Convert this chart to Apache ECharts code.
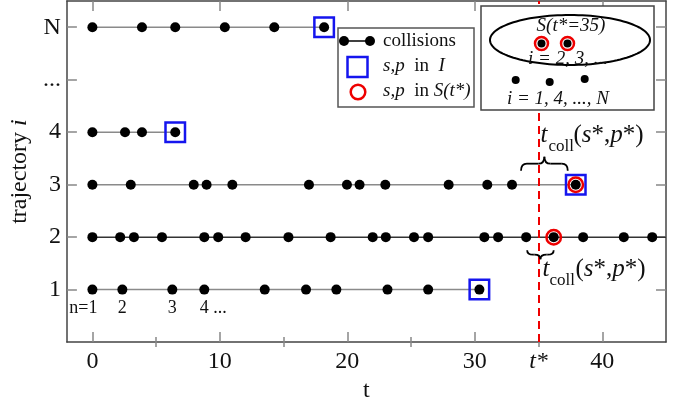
<!DOCTYPE html>
<html>
<head>
<meta charset="utf-8">
<script src="https://cdn.jsdelivr.net/npm/echarts@6/dist/echarts.min.js"></script>
<style>html,body{margin:0;padding:0;background:#fff}#c{width:688px;height:408px}</style>
</head>
<body>
<div id="c"></div>
<script>
// ---- data ----
const xMin = -2, xMax = 45, yMin = 0, yMax = 6.5;
const tStar = 35;
const xMajorTicks = [0, 10, 20, 30, 40];
const xMinorTicks = [5, 15, 25, 35];
const xLabelValues = [0, 10, 20, 30, 35, 40];
const rowLevels = [1, 2, 3, 4, 5, 6];
const rowLabels = ['1', '2', '3', '4', '...', 'N'];

const row1 = [0, 2.35, 6.27, 8.78, 13.52, 16.76, 19.14, 23.15, 26.34, 30.36];
const row2 = [0, 2.18, 3.26, 5.46, 8.78, 9.87, 12.02, 15.38, 18.69, 21.99, 23.02, 25.23, 26.34, 30.75, 31.83, 34.03, 36.19, 38.5, 41.69, 43.92];
const row3 = [0, 3.01, 7.95, 8.96, 10.98, 16.99, 19.97, 20.96, 22.98, 27.95, 30.98, 32.92, 37.92];
const row4 = [0, 2.56, 3.89, 6.5];
const rowN = [0, 3.89, 6.5, 10.39, 14.27, 18.18];

const squarePoints = [[18.18, 6], [6.5, 4], [37.92, 3], [30.36, 1]];
const circlePoints = [[36.19, 2], [37.92, 3]];
const nLabels = ['n=1', '2', '3', '4 ...'];

// ---- build ----
const FONT = '"Liberation Serif", "DejaVu Serif", serif';
const rows = [
  { t: row1, y: 1, end: row1[row1.length - 1], color: '#8a8a8a' },
  { t: row2, y: 2, end: xMax, color: '#333' },
  { t: row3, y: 3, end: row3[row3.length - 1], color: '#8a8a8a' },
  { t: row4, y: 4, end: row4[row4.length - 1], color: '#8a8a8a' },
  { t: rowN, y: 6, end: rowN[rowN.length - 1], color: '#8a8a8a' }
];

const series = [];
rows.forEach(r => {
  series.push({
    type: 'line', silent: true, showSymbol: false, z: 1,
    data: [[r.t[0], r.y], [r.end, r.y]],
    lineStyle: { color: r.color, width: 1.5 }
  });
});
const dots = [];
rows.forEach(r => r.t.forEach(v => dots.push([v, r.y])));
series.push({
  type: 'scatter', data: dots, symbolSize: 10, z: 3, silent: true,
  itemStyle: { color: '#000', opacity: 1 },
  markLine: {
    silent: true, symbol: 'none', label: { show: false },
    lineStyle: { color: '#ee0000', type: [8, 5], width: 2 },
    data: [{ xAxis: tStar }]
  }
});
series.push({
  type: 'scatter', data: squarePoints, symbol: 'rect', symbolSize: 19.5, z: 4, silent: true,
  itemStyle: { color: 'rgba(0,0,0,0)', borderColor: '#1515ee', borderWidth: 2.5, opacity: 1 }
});
series.push({
  type: 'scatter', data: circlePoints, symbol: 'circle', symbolSize: 14.5, z: 5, silent: true,
  itemStyle: { color: 'rgba(0,0,0,0)', borderColor: '#ee0000', borderWidth: 2.5, opacity: 1 }
});

const axisLineStyle = { color: '#444', width: 1.5 };
const tickStyle = { color: '#888', width: 1.5 };
function xAx(pos, ticks, len, labels) {
  const a = {
    type: 'value', min: xMin, max: xMax, position: pos,
    splitLine: { show: false },
    axisLine: { show: true, onZero: false, lineStyle: axisLineStyle },
    axisTick: { show: true, inside: true, length: len, customValues: ticks, lineStyle: tickStyle },
    axisLabel: { show: false }
  };
  if (labels) {
    a.axisLabel = {
      show: true, customValues: xLabelValues, margin: 8,
      fontFamily: FONT, fontSize: 24, color: '#111',
      formatter: v => v === tStar ? '{it|t*}' : String(v),
      rich: { it: { fontFamily: FONT, fontSize: 24, fontStyle: 'italic', color: '#111' } }
    };
    a.name = 't';
    a.nameLocation = 'middle';
    a.nameGap = 32;
    a.nameTextStyle = { fontFamily: FONT, fontSize: 24, color: '#111' };
  }
  return a;
}

const option = {
  animation: false,
  backgroundColor: '#fff',
  grid: { left: 61, right: 22, top: 1, bottom: 59, containLabel: false },
  xAxis: [
    xAx('bottom', xMajorTicks, 10, true),
    xAx('top', xMajorTicks, 10, false),
    Object.assign(xAx('bottom', xMinorTicks, 5, false), { axisLine: { show: false } }),
    Object.assign(xAx('top', xMinorTicks, 5, false), { axisLine: { show: false } })
  ],
  yAxis: [
    {
      type: 'value', min: yMin, max: yMax, position: 'left',
      splitLine: { show: false },
      axisLine: { show: true, onZero: false, lineStyle: axisLineStyle },
      axisTick: { show: true, inside: true, length: 10, customValues: rowLevels, lineStyle: tickStyle },
      axisLabel: {
        show: true, customValues: rowLevels, margin: 6,
        fontFamily: FONT, fontSize: 24, color: '#111',
        formatter: v => rowLabels[rowLevels.indexOf(v)]
      },
      name: 'trajectory {it|i}', nameLocation: 'middle', nameGap: 30,
      nameTextStyle: {
        fontFamily: FONT, fontSize: 24, color: '#111',
        rich: { it: { fontFamily: FONT, fontSize: 24, fontStyle: 'italic', color: '#111' } }
      }
    },
    {
      type: 'value', min: yMin, max: yMax, position: 'right',
      splitLine: { show: false },
      axisLine: { show: true, onZero: false, lineStyle: axisLineStyle },
      axisTick: { show: true, inside: true, length: 10, customValues: rowLevels, lineStyle: tickStyle },
      axisLabel: { show: false }
    }
  ],
  series: series
};

const chart = echarts.init(document.getElementById('c'), null, { renderer: 'canvas' });
chart.setOption(option);

// ---- annotations ----
const px = (x, y) => chart.convertToPixel({ xAxisIndex: 0, yAxisIndex: 0 }, [x, y]);
const g = [];
function txt(x, y, text, size, opts) {
  return {
    type: 'text', z: 101, x: x, y: y,
    style: Object.assign({
      text: text, fontFamily: FONT, fontSize: size, fill: '#111',
      align: 'left', verticalAlign: 'middle',
      rich: { it: { fontStyle: 'italic', fontFamily: FONT, fontSize: size, fill: '#111' } }
    }, opts || {})
  };
}
const BR = { stroke: '#000', lineWidth: 1.8, fill: null };
function quad(x1, y1, cx, cy, x2, y2) {
  return { type: 'bezierCurve', z: 100, shape: { x1: x1, y1: y1, x2: x2, y2: y2, cpx1: cx, cpy1: cy }, style: BR };
}
function seg(x1, y1, x2, y2) {
  return { type: 'line', z: 100, shape: { x1: x1, y1: y1, x2: x2, y2: y2 }, style: BR };
}
function brace(x1, x2, yEnd, yBar, yTip) {
  const xc = (x1 + x2) / 2, r = 6;
  g.push(quad(x1, yEnd, x1, yBar, x1 + r, yBar));
  g.push(seg(x1 + r, yBar, xc - r, yBar));
  g.push(quad(xc - r, yBar, xc, yBar, xc, yTip));
  g.push(quad(xc, yTip, xc, yBar, xc + r, yBar));
  g.push(seg(xc + r, yBar, x2 - r, yBar));
  g.push(quad(x2 - r, yBar, x2, yBar, x2, yEnd));
}

// upper brace (row 3)
{
  const a = px(row3[row3.length - 2], 3), b = px(row3[row3.length - 1], 3);
  const x1 = a[0] + 9, x2 = b[0] - 8, y = a[1];
  brace(x1, x2, y - 14, y - 21, y - 28);
  const x0 = (x1 + x2) / 2 - 4;
  g.push(txt(x0, y - 49, '{it|t}', 25));
  g.push(txt(x0 + 8, y - 38, 'coll', 17));
  g.push(txt(x0 + 33, y - 49, '({it|s}*,{it|p}*)', 25));
}
// lower brace (row 2)
{
  const a = px(row2[15], 2), b = px(row2[16], 2);
  const x1 = a[0] + 1, x2 = b[0], y = a[1];
  brace(x1, x2, y + 13, y + 17.5, y + 22);
  const x0 = (x1 + x2) / 2 + 2;
  g.push(txt(x0, y + 32, '{it|t}', 25));
  g.push(txt(x0 + 7, y + 43, 'coll', 17));
  g.push(txt(x0 + 33, y + 32, '({it|s}*,{it|p}*)', 25));
}
// n labels under row 1
nLabels.forEach((s, i) => {
  const p = px(row1[i], 1);
  if (i === 0) g.push(txt(p[0] + 5, p[1] + 19, s, 18, { align: 'right' }));
  else if (i === nLabels.length - 1) g.push(txt(p[0] - 4.5, p[1] + 19, s, 18, { align: 'left' }));
  else g.push(txt(p[0], p[1] + 19, s, 18, { align: 'center' }));
});

// legend box
g.push({ type: 'rect', z: 100, shape: { x: 338, y: 28, width: 136, height: 79 },
  style: { fill: '#fff', stroke: '#555', lineWidth: 1.5 } });
g.push({ type: 'line', z: 101, shape: { x1: 344, y1: 41, x2: 370, y2: 41 }, style: { stroke: '#000', lineWidth: 1.5 } });
g.push({ type: 'circle', z: 101, shape: { cx: 344, cy: 41, r: 5 }, style: { fill: '#000' } });
g.push({ type: 'circle', z: 101, shape: { cx: 370, cy: 41, r: 5 }, style: { fill: '#000' } });
g.push(txt(383, 41, 'collisions', 19));
g.push({ type: 'rect', z: 101, shape: { x: 347.5, y: 57, width: 20, height: 20 },
  style: { fill: null, stroke: '#1515ee', lineWidth: 2.5 } });
g.push(txt(383, 66, '{it|s,p}  in  {it|I}', 19));
g.push({ type: 'circle', z: 101, shape: { cx: 358, cy: 92, r: 7.3 },
  style: { fill: null, stroke: '#ee0000', lineWidth: 2.5 } });
g.push(txt(383, 91, '{it|s,p}  in {it|S(t*)}', 19));

// inset box
g.push({ type: 'rect', z: 100, shape: { x: 481, y: 6, width: 173, height: 104 },
  style: { fill: '#fff', stroke: '#444', lineWidth: 1.5 } });
{
  const pts = [];
  for (let k = 0; k < 120; k++) {
    const a = k / 120 * Math.PI * 2;
    pts.push([570 + 80 * Math.cos(a), 40 + 25 * Math.sin(a)]);
  }
  g.push({ type: 'polygon', z: 101, shape: { points: pts }, style: { fill: null, stroke: '#000', lineWidth: 2 } });
}
g.push(txt(571, 26, '{it|S(t*=35)}', 19, { align: 'center' }));
[[541.5, 43.5], [567.5, 43.5]].forEach(c => {
  g.push({ type: 'circle', z: 101, shape: { cx: c[0], cy: c[1], r: 6.5 }, style: { fill: null, stroke: '#ee0000', lineWidth: 2.5 } });
  g.push({ type: 'circle', z: 102, shape: { cx: c[0], cy: c[1], r: 4 }, style: { fill: '#000' } });
});
g.push(txt(568, 59, '{it|i = 2, 3, ...}', 19, { align: 'center' }));
[[515.7, 80], [549.7, 82], [584.7, 79]].forEach(c => {
  g.push({ type: 'circle', z: 101, shape: { cx: c[0], cy: c[1], r: 4 }, style: { fill: '#000' } });
});
g.push(txt(558, 99, '{it|i = 1, 4, ..., N}', 19, { align: 'center' }));

chart.setOption({ graphic: { elements: g } });
</script>
</body>
</html>
